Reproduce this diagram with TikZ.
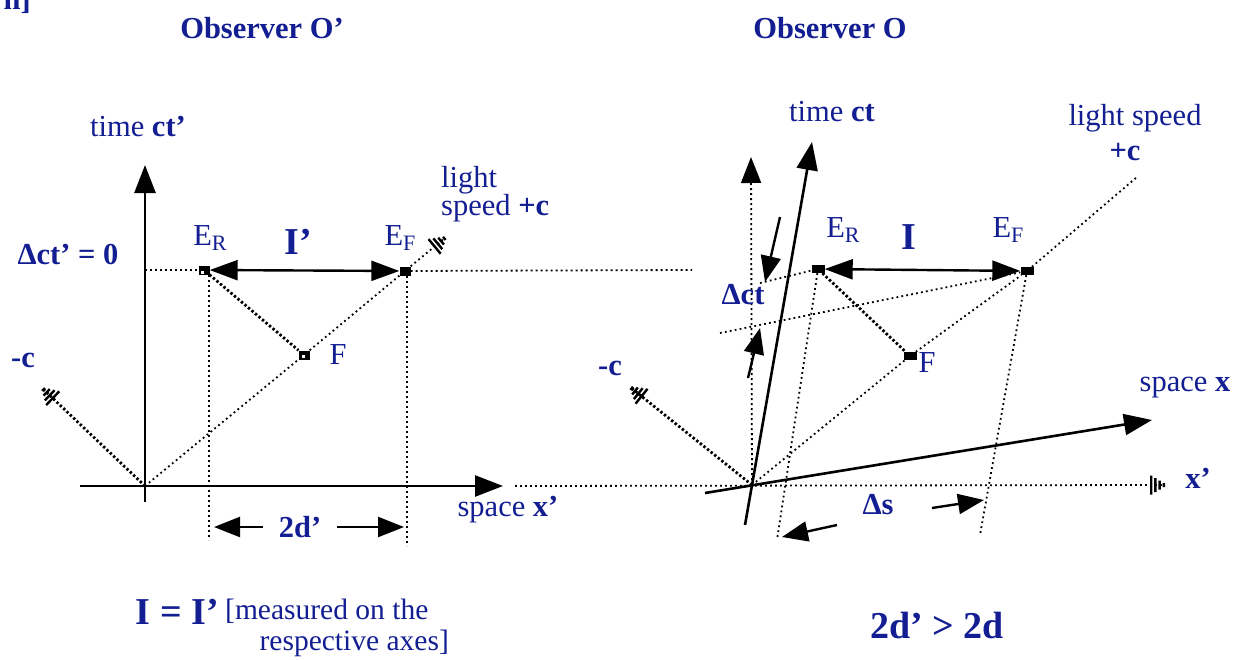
\documentclass[tikz,border=0pt]{standalone}
\usepackage{fontspec}
\setmainfont{Liberation Serif}
\usetikzlibrary{arrows.meta}
\definecolor{lblue}{RGB}{18,30,145}
\newcommand\lsub[1]{\lower5pt\hbox{\fontsize{22}{22}\selectfont #1}}
\tikzset{
  axis/.style={line width=2.6pt,-{Triangle[length=28pt,width=21pt]}},
  dimarrow/.style={line width=2.4pt,-{Triangle[length=26pt,width=20pt]}},
  dimboth/.style={line width=2.4pt,{Triangle[length=28pt,width=20pt]}-{Triangle[length=28pt,width=20pt]}},
  fdot/.style={line width=1.8pt,dash pattern=on 1.8pt off 3.2pt},
  tdot/.style={line width=2.8pt,dash pattern=on 2.4pt off 2.2pt},
  hatch/.style={-{Bar[width=19pt,line width=2.4pt,sep=1.8pt] Bar[width=14pt,line width=2.4pt,sep=1.8pt] Bar[width=9pt,line width=2.4pt,sep=1.8pt] Bar[width=4pt,line width=2.4pt,sep=1pt]}},
  ev/.style={fill=black,inner sep=0pt,minimum width=11pt,minimum height=9pt},
  evw/.style={fill=black,inner sep=0pt,minimum width=13pt,minimum height=8pt},
  whitedot/.style={fill=white,inner sep=0pt,minimum size=3pt},
  lbl/.style={text=lblue,font=\fontsize{30.5}{33}\selectfont,inner sep=0pt},
  slbl/.style={text=lblue,font=\fontsize{29.5}{31}\selectfont,inner sep=0pt},
  blbl/.style={text=lblue,font=\fontsize{30.5}{33}\selectfont\bfseries,inner sep=0pt},
  bigb/.style={text=lblue,font=\fontsize{38}{41}\selectfont\bfseries,inner sep=0pt},
}
\begin{document}
\begin{tikzpicture}[x=1pt,y=-1pt]
\useasboundingbox (0,0) rectangle (1234,659);

% ---------- titles ----------
\node[blbl,anchor=base east] (nb) at (31,9) {n]};
\node[blbl] (t1) at (262,28) {Observer O'};
\node[blbl] (t2) at (830,28) {Observer O};

% ---------- left diagram (Observer O') ----------
\coordinate (O1) at (145,486);
\coordinate (ctT1) at (145,165);
\coordinate (ctB1) at (145,502);
\coordinate (xL1) at (80,486);
\coordinate (xR1) at (503,486);
\draw[axis] (ctB1) -- (ctT1);
\draw[axis] (xL1) -- (xR1);

\node[ev] (ER1) at (204,270) {};
\node[ev] (EF1) at (405,271) {};
\node[ev] (F1) at (304,355) {};
\node[whitedot] (ER1w) at (202,272) {};
\node[whitedot] (F1w) at (303,356) {};

\coordinate (h1L) at (145,270);
\coordinate (h1R) at (692,270);
\draw[fdot] (h1L) -- (ER1);
\draw[fdot] (EF1) -- (h1R);
\draw[dimboth] (ER1) -- (EF1);
\draw[fdot] (O1) -- (F1);
\draw[fdot] (F1) -- (EF1);
\coordinate (pc1) at (446,237);
\draw[fdot,hatch] (EF1) -- (pc1);
\draw[tdot] (ER1) -- (F1);
\coordinate (mc1) at (42,388);
\draw[tdot,hatch] (O1) -- (mc1);

\coordinate (v1t) at (209,275);
\coordinate (v1b) at (209,540);
\coordinate (v2t) at (407,276);
\coordinate (v2b) at (407,546);
\draw[fdot] (v1t) -- (v1b);
\draw[fdot] (v2t) -- (v2b);

\coordinate (d1a) at (263,527);
\coordinate (d1b) at (214,527);
\coordinate (d2a) at (337,527);
\coordinate (d2b) at (404,527);
\draw[dimarrow] (d1a) -- (d1b);
\draw[dimarrow] (d2a) -- (d2b);

\node[lbl] (lt1) at (138,127) {time \textbf{ct'}};
\node[blbl] (ldc) at (68,255) {Δct' = 0};
\node[lbl] (lER1) at (210,238) {E\lsub{R}};
\node[bigb] (lI1) at (298,242) {I'};
\node[lbl] (lEF1) at (400,238) {E\lsub{F}};
\node[lbl,anchor=west] (lls1) at (441,180) {light};
\node[lbl,anchor=west] (lls2) at (441,208) {speed \textbf{+c}};
\node[lbl] (lF1) at (338,355) {F};
\node[blbl] (lmc1) at (23,360) {-c};
\node[lbl] (lx1) at (508,510) {space \textbf{x'}};
\node[blbl] (l2d) at (300,527) {2d'};

% ---------- right diagram (Observer O) ----------
\coordinate (O2) at (752,485);
\coordinate (ctT2) at (812,142);
\coordinate (ctB2) at (745,525);
\coordinate (xL2) at (705,493);
\coordinate (xR2) at (1152,420);
\draw[axis] (ctB2) -- (ctT2);
\draw[axis] (xL2) -- (xR2);

\coordinate (ctpT2) at (751,157);
\draw[fdot,-{Triangle[length=26pt,width=20pt]}] (O2) -- (ctpT2);
\coordinate (xpL) at (515,486);
\coordinate (xpR) at (1166,485);
\draw[fdot,hatch] (xpL) -- (xpR);

\node[evw] (ER2) at (818,269) {};
\node[evw] (EF2) at (1027,271) {};
\node[evw] (F2) at (910,356) {};

\draw[dimboth] (ER2) -- (EF2);
\draw[fdot] (O2) -- (F2);
\draw[fdot] (F2) -- (EF2);
\coordinate (pc2) at (1137,177);
\draw[fdot] (EF2) -- (pc2);
\draw[tdot] (ER2) -- (F2);
\coordinate (mc2) at (630,387);
\draw[tdot,hatch] (O2) -- (mc2);

% lines of simultaneity in O
\coordinate (s1L) at (760,283);
\coordinate (s2L) at (720,333);
\draw[fdot] (s1L) -- (ER2);
\draw[fdot] (s2L) -- (EF2);

% lines parallel to ct through the events
\coordinate (p1b) at (777,540);
\coordinate (p2b) at (980,535);
\draw[fdot] (ER2) -- (p1b);
\draw[fdot] (EF2) -- (p2b);

% delta ct arrows
\coordinate (dc1a) at (780,217);
\coordinate (dc1b) at (765,282);
\coordinate (dc2a) at (748,378);
\coordinate (dc2b) at (760,328);
\draw[dimarrow] (dc1a) -- (dc1b);
\draw[dimarrow] (dc2a) -- (dc2b);

% delta s arrows
\coordinate (ds1a) at (837,525);
\coordinate (ds1b) at (782,537);
\coordinate (ds2a) at (932,508);
\coordinate (ds2b) at (984,500);
\draw[dimarrow] (ds1a) -- (ds1b);
\draw[dimarrow] (ds2a) -- (ds2b);

\node[lbl] (lt2) at (832,112) {time \textbf{ct}};
\node[lbl] (lls3) at (1135,118) {light speed};
\node[blbl] (lpc2) at (1125,152) {+c};
\node[lbl] (lER2) at (843,230) {E\lsub{R}};
\node[bigb] (lI2) at (909,237) {I};
\node[lbl] (lEF2) at (1008,230) {E\lsub{F}};
\node[blbl] (ldct) at (743,295) {Δct};
\node[lbl] (lF2) at (927,363) {F};
\node[blbl] (lmc2) at (610,368) {-c};
\node[lbl] (lx2) at (1185,388) {space \textbf{x}};
\node[blbl] (lxp) at (1198,478) {x'};
\node[blbl] (lds) at (878,505) {Δs};

% ---------- bottom statements ----------
\node[bigb,anchor=east] (beq) at (219,612) {I = I'};
\node[slbl,anchor=west] (bm1) at (225,611) {[measured on the};
\node[slbl,anchor=east] (bm2) at (449,643) {respective axes]};
\node[bigb] (bineq) at (937,625) {2d' > 2d};
\end{tikzpicture}
\end{document}
